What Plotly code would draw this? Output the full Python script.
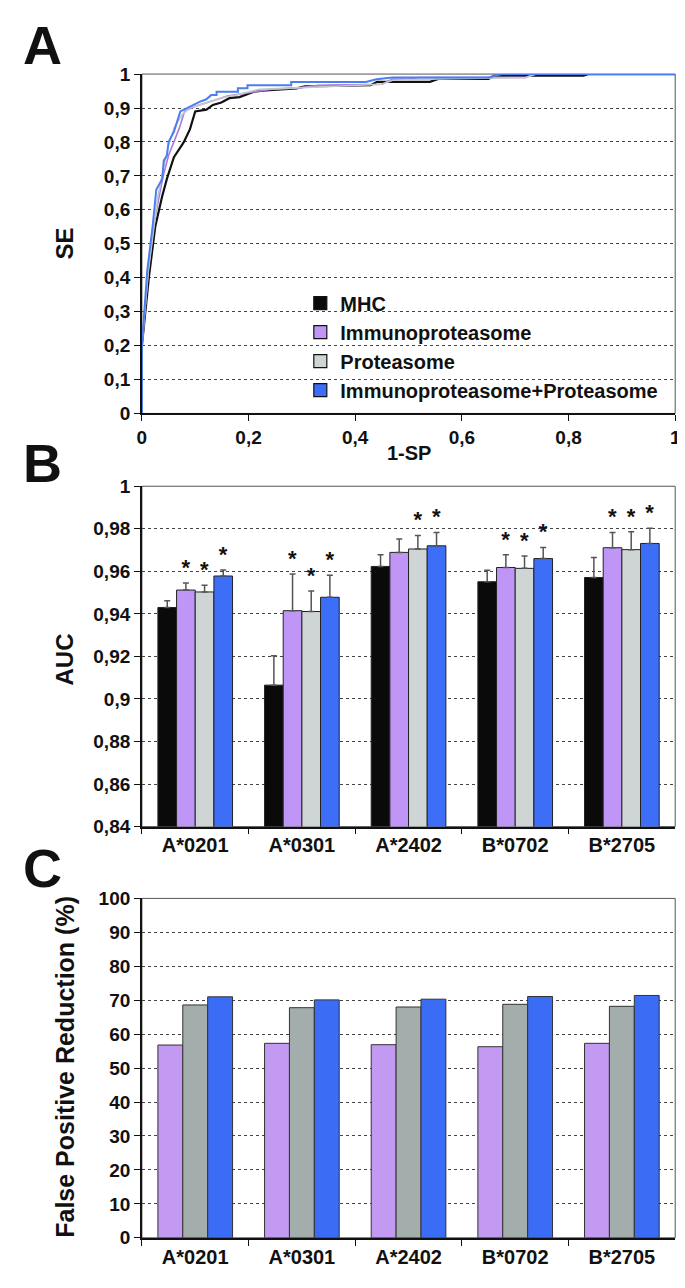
import plotly.graph_objects as go

# ---------------- Data ----------------
# Panel A: ROC curves (1-SP, SE)
mhc_x = [0, 0, 0.013, 0.025, 0.038, 0.047, 0.06, 0.078, 0.09, 0.1, 0.121, 0.133, 0.149, 0.164, 0.183, 0.192,
         0.21, 0.232, 0.29, 0.306, 0.429, 0.441, 0.54, 0.557, 0.65, 0.66, 0.828, 0.838, 1.0]
mhc_y = [0, 0.2, 0.4, 0.55, 0.64, 0.692, 0.755, 0.798, 0.837, 0.89, 0.895, 0.909, 0.916, 0.929, 0.932, 0.938,
         0.948, 0.952, 0.958, 0.964, 0.967, 0.977, 0.977, 0.986, 0.986, 0.995, 0.995, 1.0, 1.0]
imm_x = [0, 0, 0.012, 0.022, 0.03, 0.04, 0.05, 0.06, 0.07, 0.08, 0.1, 0.13, 0.16, 0.2, 0.24, 0.3, 0.33,
         0.45, 0.47, 0.5, 0.52, 0.72, 0.735, 1.0]
imm_y = [0, 0.2, 0.42, 0.55, 0.62, 0.7, 0.76, 0.8, 0.84, 0.89, 0.905, 0.92, 0.935, 0.945, 0.955, 0.96, 0.967,
         0.97, 0.985, 0.985, 0.99, 0.99, 1.0, 1.0]
pro_x = [0, 0, 0.012, 0.022, 0.03, 0.04, 0.05, 0.06, 0.075, 0.09, 0.12, 0.15, 0.18, 0.22, 0.3, 0.33,
         0.45, 0.47, 0.53, 0.72, 0.74, 1.0]
pro_y = [0, 0.2, 0.42, 0.55, 0.64, 0.72, 0.79, 0.84, 0.88, 0.9, 0.915, 0.93, 0.94, 0.955, 0.96, 0.962,
         0.97, 0.982, 0.985, 0.99, 1.0, 1.0]
cmb_x = [0, 0, 0.01, 0.02, 0.027, 0.033, 0.038, 0.041, 0.047, 0.05, 0.06, 0.072, 0.084, 0.094, 0.109, 0.12,
         0.13, 0.14, 0.14, 0.18, 0.18, 0.198, 0.198, 0.28, 0.28, 0.42, 0.44, 0.47, 0.65, 0.675, 1.0]
cmb_y = [0, 0.2, 0.42, 0.55, 0.66, 0.675, 0.69, 0.745, 0.76, 0.8, 0.83, 0.89, 0.9, 0.909, 0.919, 0.925,
         0.938, 0.938, 0.948, 0.948, 0.958, 0.958, 0.967, 0.967, 0.977, 0.977, 0.985, 0.99, 0.99, 1.0, 1.0]

series_names = ["MHC", "Immunoproteasome", "Proteasome", "Immunoproteasome+Proteasome"]

# Panel B: AUC
alleles = ["A*0201", "A*0301", "A*2402", "B*0702", "B*2705"]
auc_mhc = [0.943, 0.9065, 0.9623, 0.9551, 0.9571]
auc_imm = [0.9512, 0.9415, 0.9689, 0.9618, 0.9711]
auc_pro = [0.9503, 0.9411, 0.9705, 0.9614, 0.9702]
auc_cmb = [0.9578, 0.9478, 0.9720, 0.9660, 0.9731]
err_mhc = [0.0032, 0.0138, 0.0055, 0.0054, 0.0094]
err_imm = [0.0033, 0.0173, 0.0063, 0.0060, 0.0072]
err_pro = [0.0032, 0.0097, 0.0064, 0.0058, 0.0084]
err_cmb = [0.0028, 0.0104, 0.0062, 0.0052, 0.0071]
sig_mhc = [False, False, False, False, False]
sig_imm = [True, True, False, True, True]
sig_pro = [True, True, True, True, True]
sig_cmb = [True, True, True, True, True]

# Panel C: False positive reduction (%)
fpr_imm = [56.8, 57.3, 56.9, 56.3, 57.3]
fpr_pro = [68.6, 67.8, 68.0, 68.8, 68.2]
fpr_cmb = [71.0, 70.1, 70.3, 71.1, 71.4]

# ---------------- Styling ----------------
W, H = 685, 1288
FONT = "Liberation Sans, Arial, Helvetica, sans-serif"
col_line = {"MHC": "#111111", "Immunoproteasome": "#a77be6",
            "Proteasome": "#c3c8c8", "Immunoproteasome+Proteasome": "#4a7ef2"}
col_B = {"MHC": "#0a0a0a", "Immunoproteasome": "#bf95f5",
         "Proteasome": "#cfd5d4", "Immunoproteasome+Proteasome": "#3d6ef7"}
col_C = {"Immunoproteasome": "#c39af2", "Proteasome": "#a3aeac",
         "Immunoproteasome+Proteasome": "#3a6cf5"}


def fx(p):
    return p / W


def fy(p):
    return 1 - p / H


x_dom = [fx(131), fx(673)]
A_dom = [fy(402), fy(57)]
B_dom = [fy(822), fy(476)]
C_dom = [fy(1240), fy(895)]

fig = go.Figure()

# ---- Panel A ----
roc = [(mhc_x, mhc_y, "MHC", 2.2), (imm_x, imm_y, "Immunoproteasome", 1.6),
       (pro_x, pro_y, "Proteasome", 1.6), (cmb_x, cmb_y, "Immunoproteasome+Proteasome", 2.0)]
for xs, ys, nm, lw in roc:
    fig.add_trace(go.Scatter(x=xs, y=ys, mode="lines", line=dict(color=col_line[nm], width=lw),
                             showlegend=False, xaxis="x", yaxis="y", cliponaxis=False, hoverinfo="skip"))
for nm in series_names:
    fig.add_trace(go.Scatter(x=[None], y=[None], mode="markers", name=nm,
                             marker=dict(symbol="square", size=13, color=col_B[nm],
                                         line=dict(color="#111111", width=1.2)),
                             xaxis="x", yaxis="y", showlegend=True))

# ---- Panel B ----
b_vals = [auc_mhc, auc_imm, auc_pro, auc_cmb]
b_errs = [err_mhc, err_imm, err_pro, err_cmb]
b_sigs = [sig_mhc, sig_imm, sig_pro, sig_cmb]
for i, nm in enumerate(series_names):
    fig.add_trace(go.Bar(x=alleles, y=b_vals[i], base=0, offsetgroup="b%d" % i, name=nm, showlegend=False,
                         marker=dict(color=col_B[nm], line=dict(color="#222222", width=1)),
                         error_y=dict(type="data", symmetric=False, array=b_errs[i],
                                      arrayminus=[0] * len(alleles), color="#555555", thickness=1.5, width=3),
                         xaxis="x2", yaxis="y2", hoverinfo="skip"))
for i, nm in enumerate(series_names):
    tops = [v + e for v, e in zip(b_vals[i], b_errs[i])]
    fig.add_trace(go.Bar(x=alleles, y=[0.0001] * len(alleles), base=tops, offsetgroup="b%d" % i,
                         text=["*" if s else "" for s in b_sigs[i]], textposition="outside",
                         constraintext="none", cliponaxis=False,
                         outsidetextfont=dict(family=FONT, size=22, color="#111111", weight="bold"),
                         marker=dict(color="rgba(0,0,0,0)", line=dict(width=0)),
                         showlegend=False, xaxis="x2", yaxis="y2", hoverinfo="skip"))

# ---- Panel C ----
c_vals = [fpr_imm, fpr_pro, fpr_cmb]
for i, nm in enumerate(series_names[1:]):
    fig.add_trace(go.Bar(x=alleles, y=c_vals[i], offsetgroup="c%d" % i, name=nm, showlegend=False,
                         marker=dict(color=col_C[nm], line=dict(color="#333333", width=1)),
                         xaxis="x3", yaxis="y3", hoverinfo="skip"))

tickfont = dict(family=FONT, size=19, color="#111111", weight="bold")
grid = dict(showgrid=True, gridcolor="#444444", griddash="dot", gridwidth=1.2)
axis_common = dict(showline=True, linecolor="#111111", linewidth=1.6, ticks="outside", ticklen=6,
                   tickwidth=1.4, tickcolor="#111111", tickfont=tickfont, zeroline=False, mirror=False)

fig.update_layout(
    width=W, height=H, autosize=False,
    margin=dict(l=0, r=0, t=0, b=0),
    paper_bgcolor="white", plot_bgcolor="white",
    separators=",.",
    barmode="group", bargap=0.3, bargroupgap=0,
    font=dict(family=FONT, color="#111111"),
    showlegend=True,
    legend=dict(x=fx(292), y=fy(270), xanchor="left", yanchor="top", bgcolor="rgba(0,0,0,0)",
                font=dict(family=FONT, size=20, color="#111111", weight="bold"),
                tracegroupgap=0, itemwidth=30, borderwidth=0),
    xaxis=dict(domain=x_dom, anchor="y", range=[0, 1], dtick=0.2, showgrid=False, **axis_common),
    yaxis=dict(domain=A_dom, anchor="x", range=[0, 1], dtick=0.1, **grid, **axis_common),
    xaxis2=dict(domain=x_dom, anchor="y2", type="category", tickson="boundaries", showgrid=False,
                **axis_common),
    yaxis2=dict(domain=B_dom, anchor="x2", range=[0.84, 1], dtick=0.02, **grid, **axis_common),
    xaxis3=dict(domain=x_dom, anchor="y3", type="category", tickson="boundaries", showgrid=False,
                **axis_common),
    yaxis3=dict(domain=C_dom, anchor="x3", range=[0, 100], dtick=10, **grid, **axis_common),
)
fig.layout.xaxis2.tickfont.size = 20
fig.layout.xaxis3.tickfont.size = 20

# plot-area borders (top/right)
for xr, yr in [("x", "y"), ("x2", "y2"), ("x3", "y3")]:
    fig.add_shape(type="rect", xref=xr + " domain", yref=yr + " domain", x0=0, x1=1, y0=0, y1=1,
                  line=dict(color="#555555", width=1), layer="below")

# annotations: panel letters and axis titles
ann = [
    dict(text="A", x=fx(8), y=fy(27), size=54, xanchor="left"),
    dict(text="B", x=fx(8), y=fy(452), size=54, xanchor="left"),
    dict(text="C", x=fx(8), y=fy(864), size=54, xanchor="left"),
    dict(text="1-SP", x=fx(402), y=fy(442), size=20, xanchor="center"),
]
for a in ann:
    fig.add_annotation(text=a["text"], x=a["x"], y=a["y"], xref="paper", yref="paper",
                       xanchor=a["xanchor"], yanchor="middle", showarrow=False,
                       font=dict(family=FONT, size=a["size"], color="#111111", weight="bold"))
for txt, ycen, sz in [("SE", 229, 24), ("AUC", 652, 24), ("False Positive Reduction (%)", 1066, 25)]:
    fig.add_annotation(text=txt, x=fx(52), y=fy(ycen), xref="paper", yref="paper", textangle=-90,
                       xanchor="center", yanchor="middle", showarrow=False,
                       font=dict(family=FONT, size=sz, color="#111111", weight="bold"))

fig.write_html("out.html")
